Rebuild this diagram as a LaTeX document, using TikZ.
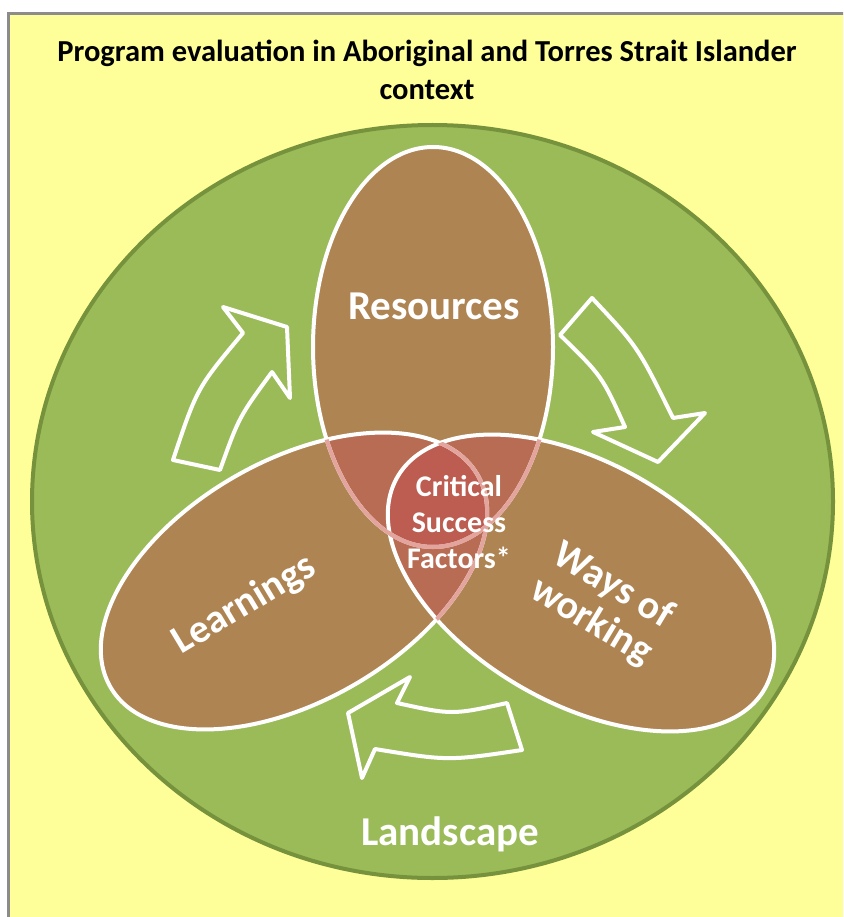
\documentclass[tikz,border=0pt]{standalone}
\usepackage{fontspec}
\setmainfont{Carlito}
\usetikzlibrary{positioning}
\definecolor{paleyellow}{RGB}{255,255,153}
\definecolor{framegray}{RGB}{140,140,140}
\definecolor{landgreen}{RGB}{155,187,89}
\definecolor{landedge}{RGB}{118,146,60}
\definecolor{earth}{RGB}{174,132,82}
\definecolor{overlap}{RGB}{184,108,83}
\definecolor{core}{RGB}{189,92,80}
\definecolor{softline}{RGB}{226,164,156}

% the three petals of the venn
\newcommand{\resring}{(433,347) ellipse [x radius=120, y radius=200]}
\newcommand{\learnring}{(294,581) ellipse [x radius=212, y radius=120]}
\newcommand{\waysring}{(581,583) ellipse [x radius=212, y radius=120]}

\begin{document}
\begin{tikzpicture}[x=1pt,y=-1pt,font=\bfseries]
    \tikzstyle{learn tilt}=[rotate around={30:(294,581)}]
    \tikzstyle{ways tilt}=[rotate around={-30:(581,583)}]
    \tikzstyle{petal edge}=[draw=white, line width=4pt]
    \tikzstyle{soft edge}=[draw=softline, line width=4pt]
    \tikzstyle{turn arrow}=[draw=white, line width=4pt, fill=landgreen, line join=round]
    \tikzstyle{label}=[text=white, inner sep=0pt, align=center]

    \useasboundingbox (0,0) rectangle (843,917);
    \clip (0,0) rectangle (843,917);

    % Draw the page frame
    \draw[framegray, fill=paleyellow, line width=3pt] (8,14) rectangle (890,960);

    % Draw the title
    \node[inner sep=0pt, align=center, font=\bfseries\fontsize{30.5}{38}\selectfont, anchor=base]
        (title) at (427,100) {Program evaluation in Aboriginal and Torres Strait Islander\\context};

    % Draw the landscape
    \draw[landedge, fill=landgreen, line width=4pt] (432.5,501.5) ellipse [x radius=400.5, y radius=376.5];

    % Draw the petals
    \fill[earth] \resring;
    \fill[earth, learn tilt] \learnring;
    \fill[earth, ways tilt] \waysring;

    % Colour the overlaps
    \begin{scope}
        \clip \resring;
        \fill[overlap, learn tilt] \learnring;
        \fill[overlap, ways tilt] \waysring;
    \end{scope}
    \begin{scope}
        \clip[learn tilt] \learnring;
        \fill[overlap, ways tilt] \waysring;
    \end{scope}
    \begin{scope}
        \clip \resring;
        \clip[learn tilt] \learnring;
        \fill[core, ways tilt] \waysring;
    \end{scope}

    % Petal outlines, faded where covered
    \draw[petal edge] \resring;
    \draw[petal edge, learn tilt] \learnring;
    \draw[petal edge, ways tilt] \waysring;
    \begin{scope}
        \clip[learn tilt] \learnring;
        \draw[soft edge] \resring;
    \end{scope}
    \begin{scope}
        \clip[ways tilt] \waysring;
        \draw[soft edge] \resring;
        \draw[soft edge, learn tilt] \learnring;
    \end{scope}

    % Draw the cycle arrows
    \draw[turn arrow] (173,460) .. controls (197,388) .. (243,333) -- (223,307) -- (287,327)
        -- (290,398) -- (272,372) .. controls (239,417) .. (220,470) -- cycle;
    \draw[turn arrow] (592,298) .. controls (638,347) .. (673,418) -- (705,413) -- (658,462)
        -- (593,432) -- (625,427) .. controls (602,376) .. (560,335) -- cycle;
    \draw[turn arrow] (507,703) .. controls (452,715) .. (397,703) -- (410,677) -- (348,713)
        -- (362,778) -- (375,749) .. controls (448,761) .. (522,750) -- cycle;

    % Labels
    \node[label, font=\bfseries\fontsize{41}{44}\selectfont, anchor=base] (resources) at (434,319) {Resources};
    \node[label, font=\bfseries\fontsize{40}{44}\selectfont, anchor=base, rotate=31] (learnings) at (250,614) {Learnings};
    \node[label, font=\bfseries\fontsize{40}{42}\selectfont, rotate=-31] (ways) at (602,604) {Ways of\\working};
    \node[label, font=\bfseries\fontsize{30}{36}\selectfont] (csf) at (459,522) {Critical\\Success\\Factors*};
    \node[label, font=\bfseries\fontsize{41}{44}\selectfont, anchor=base] (landscape) at (450,845) {Landscape};
\end{tikzpicture}
\end{document}
